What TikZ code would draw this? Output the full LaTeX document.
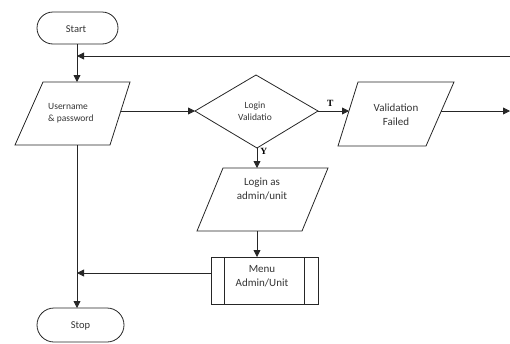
\documentclass[tikz,border=0pt]{standalone}
\usepackage{fontspec}
\setmainfont{Carlito}
\newfontfamily\lblfont{Liberation Serif}
\usetikzlibrary{arrows.meta}
\begin{document}
\begin{tikzpicture}[x=1pt,y=-1pt,
  outline/.style={draw=black!85,line width=0.8pt},
  conn/.style={draw=black!85,line width=0.8pt,-{Triangle[length=7pt,width=7pt]}},
  plain/.style={draw=black!85,line width=0.8pt},
  txt/.style={inner sep=0pt,align=center,text=black!80,font=\fontsize{9.5}{12.5}\selectfont},
  endtxt/.style={inner sep=0pt,align=center,text=black!80,font=\fontsize{10.5}{12.5}\selectfont},
  bigtxt/.style={inner sep=0pt,align=center,text=black!80,font=\fontsize{11}{14}\selectfont},
  lbl/.style={inner sep=0pt,font=\lblfont\bfseries\fontsize{9.5}{10}\selectfont}]
\useasboundingbox (0,0) rectangle (510,343);
% Start
\draw[outline,rounded corners=16pt] (37,12) rectangle (118,44);
\node[endtxt] (start) at (76,29.5) {Start};
\coordinate (startB) at (77,44);
% Username
\draw[outline] (43,82) -- (130,82) -- (110,145) -- (15,145) -- cycle;
\node[txt,align=left,anchor=west] (user) at (48,113) {Username\\\& password};
\coordinate (userT) at (77,82);
\coordinate (userB) at (77,145);
\coordinate (userR) at (121,111);
% diamond
\draw[outline] (195,111) -- (256,75) -- (318,111) -- (257,148) -- cycle;
\node[txt] (login) at (255,111.5) {Login\\Validatio};
\coordinate (diaL) at (195,111);
\coordinate (diaR) at (318,111);
\coordinate (diaB) at (257,148);
% Validation Failed
\draw[outline] (358,82) -- (454,82) -- (426,146) -- (338,146) -- cycle;
\node[bigtxt] (vf) at (396,114.5) {Validation\\Failed};
\coordinate (vfL) at (349,111);
\coordinate (vfR) at (441,111);
\coordinate (edgeR) at (510,111);
\coordinate (edgeTop) at (510,56);
\coordinate (loopIn) at (77,56);
% Login as
\draw[outline] (223,168) -- (328,168) -- (302,231) -- (197,231) -- cycle;
\node[bigtxt] (las) at (262,188.5) {Login as\\admin/unit};
\coordinate (lasT) at (257,168);
\coordinate (lasB) at (257,231);
% Menu
\draw[outline] (211,257) rectangle (318,304);
\draw[plain] (224,257) -- (224,304) (304,257) -- (304,304);
\node[bigtxt] (menu) at (262,276.5) {Menu\\Admin/Unit};
\coordinate (menuT) at (257,257);
\coordinate (menuL) at (211,273);
\coordinate (joinM) at (77,273);
% Stop
\draw[outline,rounded corners=17pt] (37,308) rectangle (124,342);
\node[endtxt] (stop) at (80.5,326) {Stop};
\coordinate (stopT) at (77,308);
% connectors
\draw[conn] (startB) -- (userT);
\draw[conn] (edgeTop) -- (loopIn);
\draw[conn] (userR) -- (diaL);
\draw[conn] (diaR) -- node[lbl,above=4pt,pos=0.4] (tl) {T} (vfL);
\draw[conn] (vfR) -- (edgeR);
\draw[conn] (diaB) -- node[lbl,right=3pt,pos=0.15] (yl) {Y} (lasT);
\draw[conn] (lasB) -- (menuT);
\draw[conn] (menuL) -- (joinM);
\draw[conn] (userB) -- (stopT);
\end{tikzpicture}
\end{document}
